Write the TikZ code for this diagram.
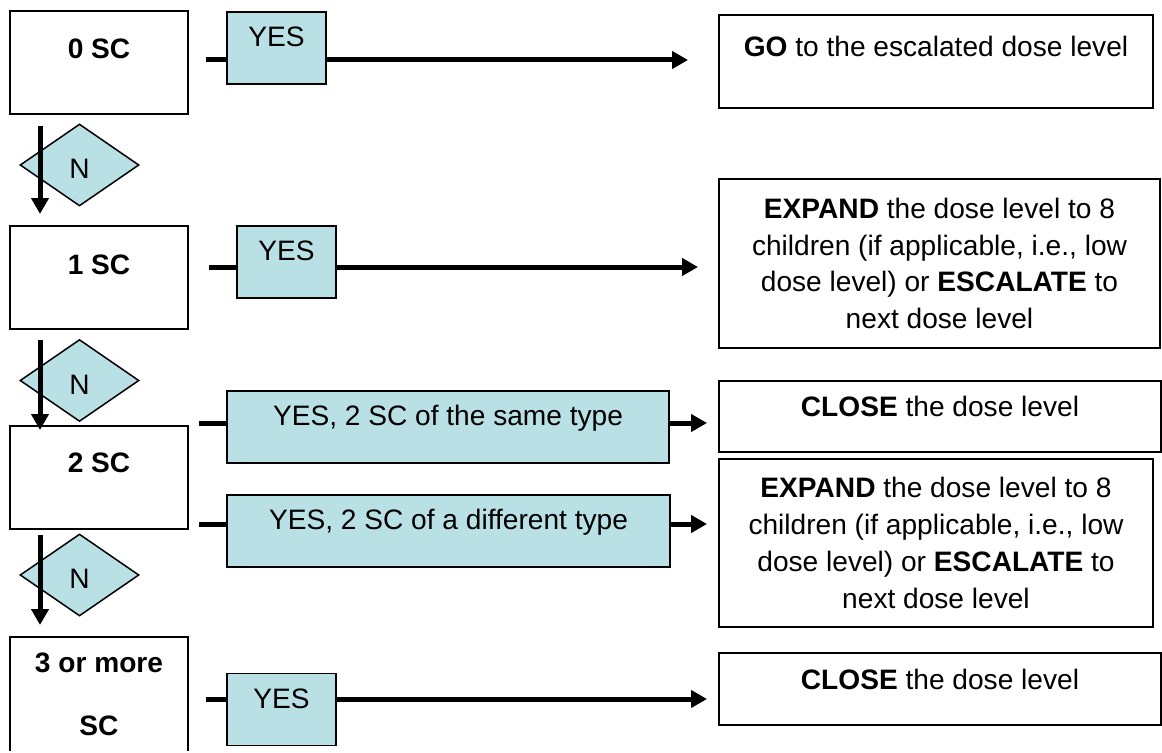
\documentclass[tikz,border=0pt]{standalone}
\usepackage{fontspec}
\setmainfont{Liberation Sans}
\usetikzlibrary{positioning}
\usetikzlibrary{shapes.geometric}
\usetikzlibrary{arrows.meta}

\definecolor{yesblue}{RGB}{185,224,228}

\begin{document}
\begin{tikzpicture}[x = 0.02cm, y = -0.02cm,
		font = \fontsize{16}{21}\selectfont,
		lift/.style = {text height = 0.4cm, text depth = #1},
		scbox/.style = {draw, rectangle, line width = 0.04cm, minimum width = 3.56cm, minimum height = 2.06cm, align = center, font = \fontsize{16}{21}\selectfont\bfseries},
		nbox/.style = {draw, diamond, fill = yesblue, line width = 0.03cm, minimum width = 2.38cm, minimum height = 1.64cm, inner sep = 0pt, text height = 0.54cm, text depth = 0cm},
		yesbox/.style = {draw, rectangle, fill = yesblue, line width = 0.03cm, minimum height = 1.44cm, lift = 0.46cm},
		outbox/.style = {draw, rectangle, line width = 0.04cm, align = center},
		link/.style = {black, line width = 0.1cm},
		flow/.style = {black, line width = 0.1cm, -{Triangle[length = 0.32cm, width = 0.34cm]}}]

		\useasboundingbox (0,0) rectangle (1162,753);
		\clip (-10,-10) rectangle (1172,750);

		\node[scbox, lift = 0.56cm] at (99,62.5) (sc0) {0 SC};
		\node[scbox, lift = 0.54cm] at (99,277.5) (sc1) {1 SC};
		\node[scbox, lift = 0.62cm] at (99,477.5) (sc2) {2 SC};
		\node[scbox, minimum height = 2.3cm] at (99,694.5) (sc3) {3 or more\\[0.52cm]SC};

		\node[nbox] at (79.5,165) (n0) {N};
		\node[nbox] at (79.5,380.5) (n1) {N};
		\node[nbox] at (79.5,575) (n2) {N};

		\node[yesbox, minimum width = 1.98cm] at (276.5,48) (yes0) {YES};
		\node[yesbox, minimum width = 1.98cm] at (286.5,262) (yes1) {YES};
		\node[yesbox, minimum width = 8.84cm, lift = 0.48cm] at (448,427) (yes2a) {YES, 2 SC of the same type};
		\node[yesbox, minimum width = 8.86cm, lift = 0.48cm] at (448.5,531) (yes2b) {YES, 2 SC of a different type};
		\node[yesbox, minimum width = 2.18cm] at (281.5,709.5) (yes3) {YES};

		\node[outbox, minimum width = 8.68cm, minimum height = 1.86cm, lift = 0.58cm] at (936,61.5) (go)
		{\textbf{GO} to the escalated dose level};
		\node[outbox, minimum width = 8.82cm, minimum height = 3.38cm] at (939.5,263.5) (exp1)
		{\textbf{EXPAND} the dose level to 8\\children (if applicable, i.e., low\\dose level) or \textbf{ESCALATE} to\\next dose level};
		\node[outbox, minimum width = 8.84cm, minimum height = 1.42cm, lift = 0.42cm] at (940,416.5) (close1)
		{\textbf{CLOSE} the dose level};
		\node[outbox, minimum width = 8.68cm, minimum height = 3.36cm] at (936,543) (exp2)
		{\textbf{EXPAND} the dose level to 8\\children (if applicable, i.e., low\\dose level) or \textbf{ESCALATE} to\\next dose level};
		\node[outbox, minimum width = 8.84cm, minimum height = 1.44cm, lift = 0.4cm] at (940,689) (close2)
		{\textbf{CLOSE} the dose level};

		% lane of the N arrows and heights of the YES rows
		\coordinate (lane) at (40,0);
		\coordinate (row0) at (0,60);
		\coordinate (row1) at (0,267);
		\coordinate (row2a) at (0,423);
		\coordinate (row2b) at (0,524);
		\coordinate (row3) at (0,699);

		\draw[flow, shorten <= 0.22cm, shorten >= 0.22cm] (sc0.south -| lane) -- (sc1.north -| lane);
		\draw[flow, shorten <= 0.2cm, shorten >= -0.1cm] (sc1.south -| lane) -- (sc2.north -| lane);
		\draw[flow, shorten <= 0.1cm, shorten >= 0.22cm] (sc2.south -| lane) -- (sc3.north -| lane);

		\draw[link] (sc0.east |- row0) ++(17,0) -- (yes0.west |- row0);
		\draw[flow, shorten >= 0.6cm] (yes0.east |- row0) -- (go.west |- row0);

		\draw[link] (sc1.east |- row1) ++(20,0) -- (yes1.west |- row1);
		\draw[flow, shorten >= 0.4cm] (yes1.east |- row1) -- (exp1.west |- row1);

		\draw[link] (sc2.east |- row2a) ++(10,0) -- (yes2a.west |- row2a);
		\draw[flow, shorten >= 0.22cm] (yes2a.east |- row2a) -- (close1.west |- row2a);

		\draw[link] (sc2.east |- row2b) ++(10,0) -- (yes2b.west |- row2b);
		\draw[flow, shorten >= 0.22cm] (yes2b.east |- row2b) -- (exp2.west |- row2b);

		\draw[link] (sc3.east |- row3) ++(17,0) -- (yes3.west |- row3);
		\draw[flow, shorten >= 0.22cm] (yes3.east |- row3) -- (close2.west |- row3);
	\end{tikzpicture}
\end{document}
